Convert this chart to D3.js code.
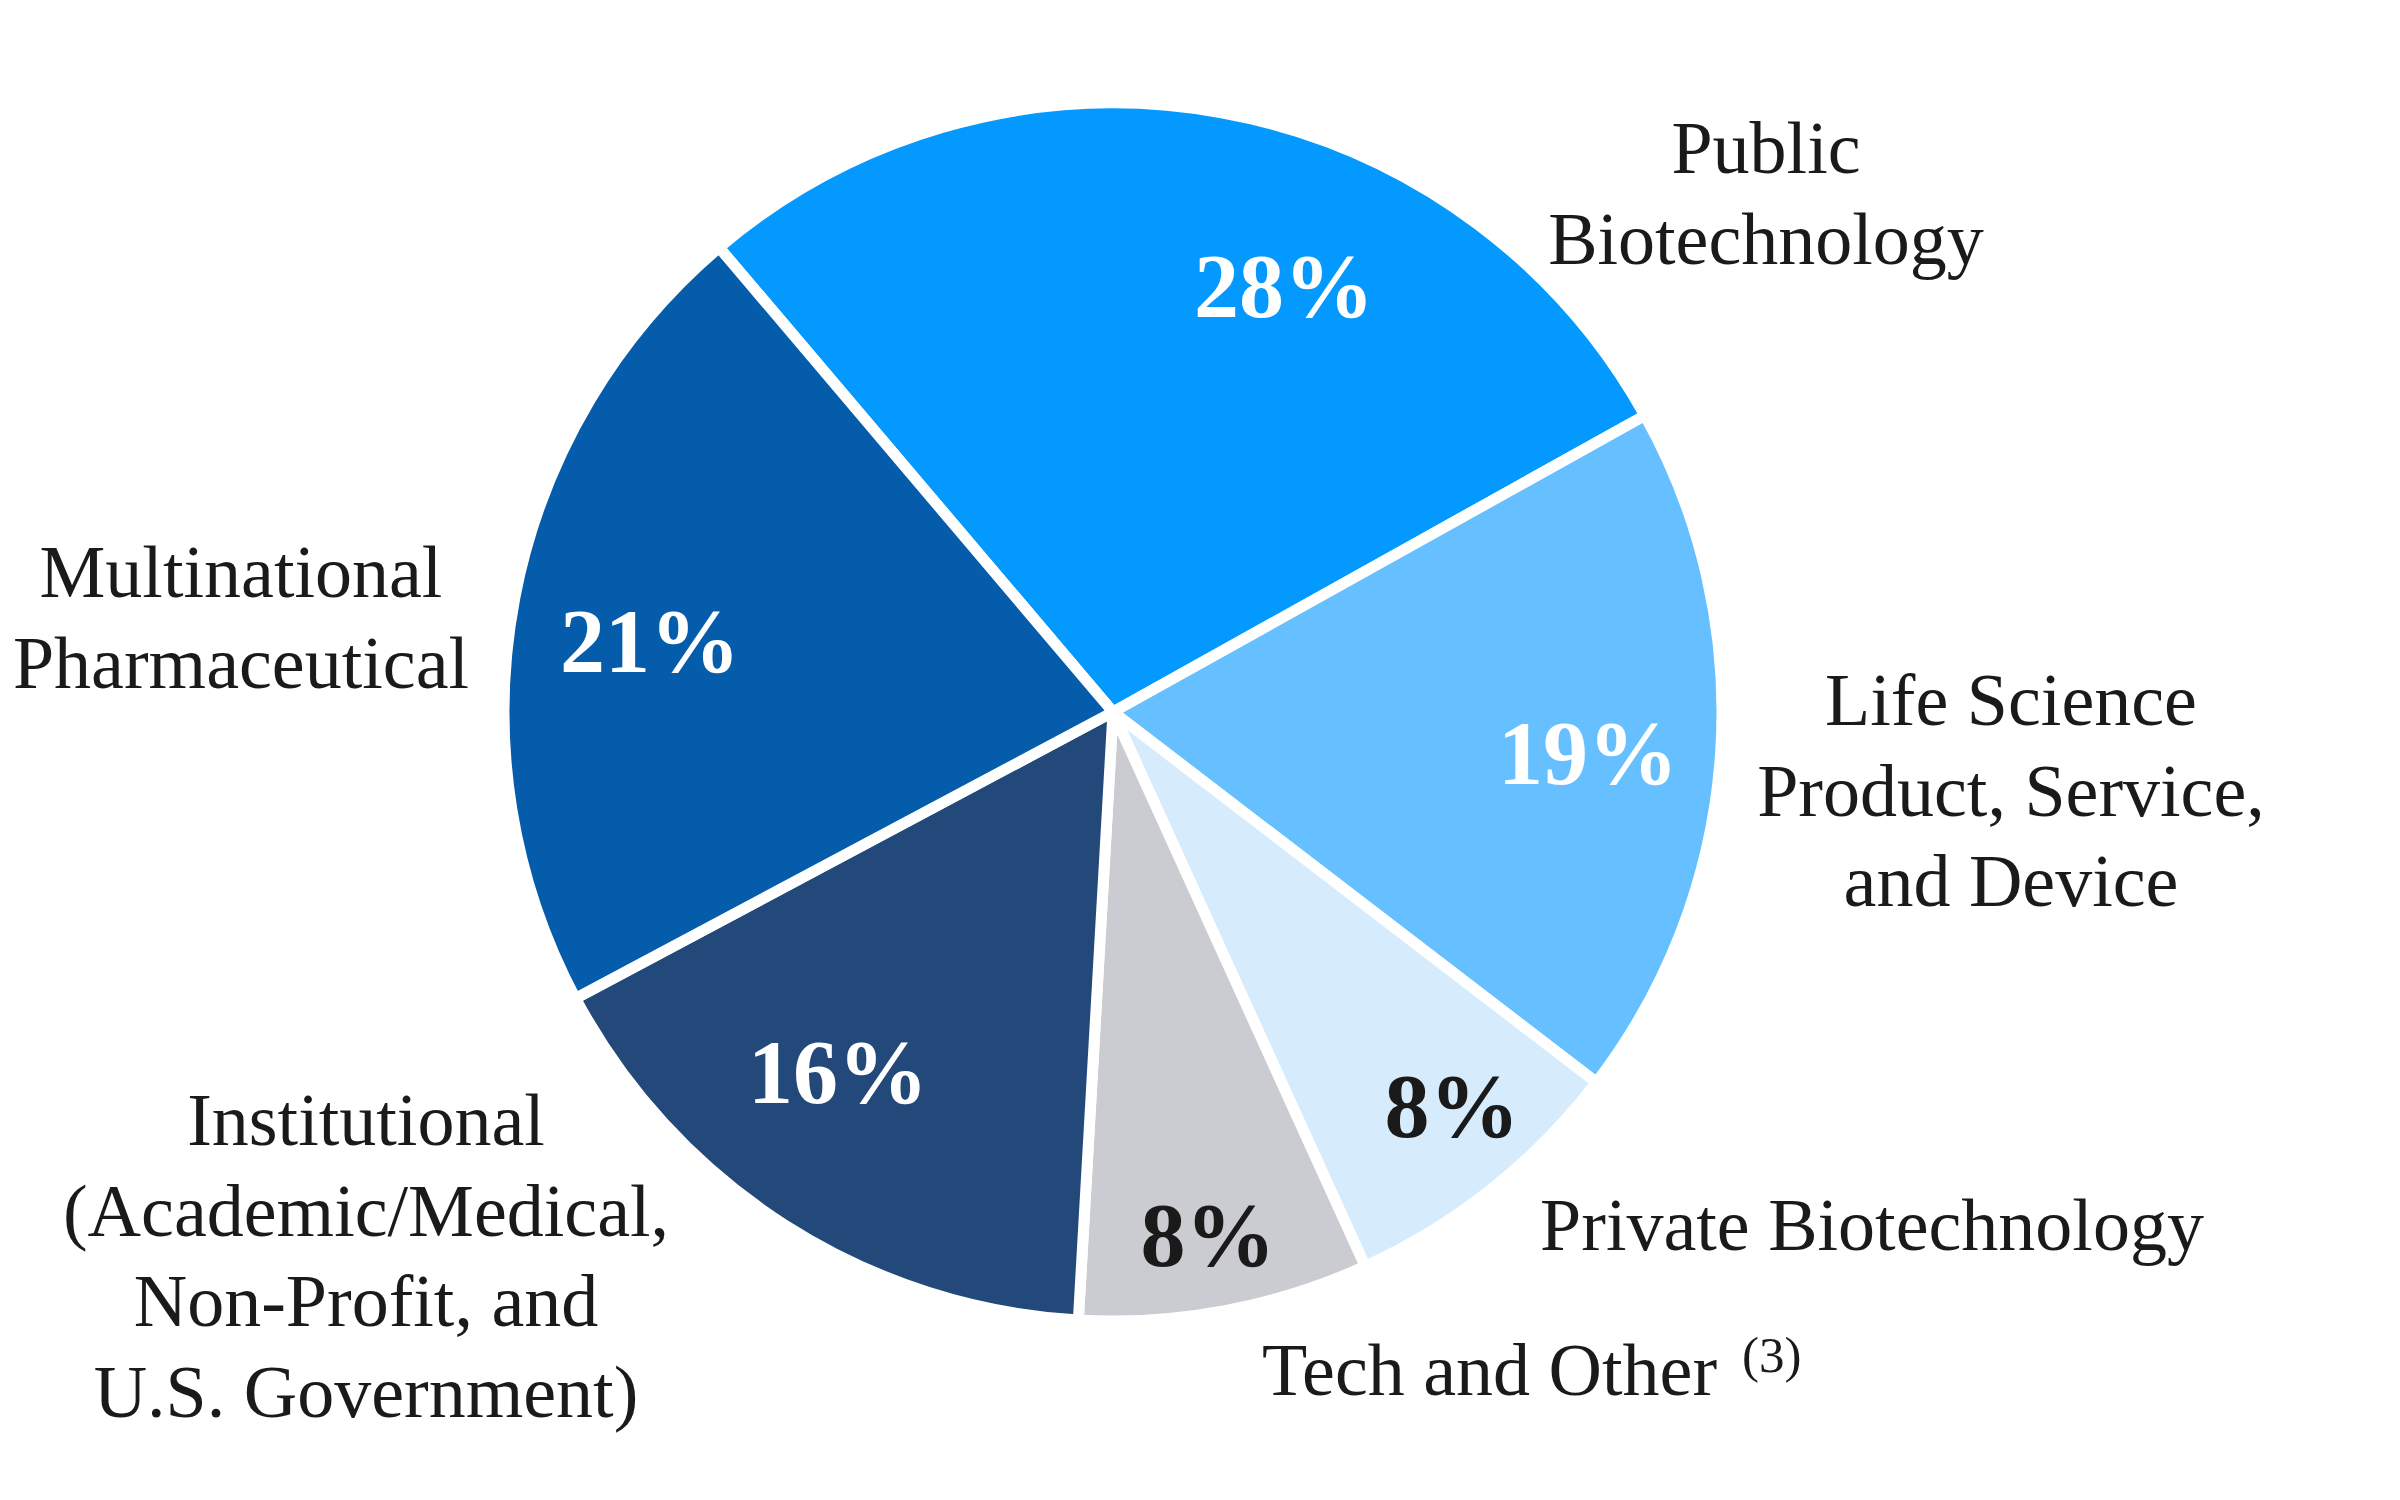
<!DOCTYPE html>
<html>
<head>
<meta charset="utf-8">
<script src="https://cdn.jsdelivr.net/npm/d3@7"></script>
<style>
  html, body { margin: 0; padding: 0; background: #fff; }
  svg text { font-family: "Liberation Serif", "Times New Roman", serif; }
</style>
</head>
<body>
<div id="chart"></div>
<script>
// segments, clockwise from the top-left edge of the pie
var categories = ["Public Biotechnology", "Life Science Product, Service, and Device",
                  "Private Biotechnology", "Tech and Other", "Institutional", "Multinational Pharmaceutical"]
// slice sizes as drawn in the picture (labels are the rounded figures)
var shares = [28.1, 18.5, 7.8, 7.7, 16.3, 21.6]
var pctLabels = ["28%", "19%", "8%", "8%", "16%", "21%"]
var nameLines = [
    ["Public", "Biotechnology"],
    ["Life Science", "Product, Service,", "and Device"],
    ["Private Biotechnology"],
    ["Tech and Other"],
    ["Institutional", "(Academic/Medical,", "Non-Profit, and", "U.S. Government)"],
    ["Multinational", "Pharmaceutical"]
]
var footnote = "(3)"

var colors = ["#0399fe", "#66c0ff", "#d6ecfd", "#cbccd1", "#22497a", "#045cab"]
var pctColors = ["#fff", "#fff", "#1a1a1a", "#1a1a1a", "#fff", "#fff"]

// text placement (hand laid out, like the original)
var pctPos = [[1284, 317], [1588, 784], [1452, 1137], [1208, 1266], [838, 1103], [650, 672]]
var namePos = [
    {x: 1766, y: 173, anchor: "middle"},
    {x: 2011, y: 725, anchor: "middle"},
    {x: 1872, y: 1250, anchor: "middle"},
    {x: 1262, y: 1395, anchor: "start"},
    {x: 366, y: 1145, anchor: "middle"},
    {x: 241, y: 597, anchor: "middle"}
]

var svgWidth = 2400
var svgHeight = 1500
var cx = 1113, cy = 712
var radius = 609
var lineGap = 90.5

var svg = d3.select("#chart")
    .append("svg")
    .attr("width", svgWidth)
    .attr("height", svgHeight)

var startA = -40.3 * Math.PI / 180
var pie = d3.pie()
    .sort(null)
    .value(d => d)
    .startAngle(startA)
    .endAngle(startA + 2 * Math.PI)

var arc = d3.arc()
    .innerRadius(0)
    .outerRadius(radius)

var pieGroup = svg.append("g")
    .attr("transform", `translate(${cx},${cy})`)

pieGroup.selectAll(".slice")
    .data(pie(shares))
    .enter()
    .append("path")
    .classed("slice", true)
    .attr("d", arc)
    .attr("fill", (d, i) => colors[i])
    .attr("stroke", "#fff")
    .attr("stroke-width", 11)
    .attr("stroke-linejoin", "round")

// percentages inside slices
svg.selectAll(".pct")
    .data(pctLabels)
    .enter()
    .append("text")
    .classed("pct", true)
    .attr("x", (d, i) => pctPos[i][0])
    .attr("y", (d, i) => pctPos[i][1])
    .attr("text-anchor", "middle")
    .attr("font-size", "90px")
    .attr("font-weight", "bold")
    .attr("fill", (d, i) => pctColors[i])
    .text(d => d)

// category names outside
nameLines.forEach(function(lines, i) {
    var p = namePos[i]
    var t = svg.append("text")
        .attr("x", p.x)
        .attr("y", p.y)
        .attr("text-anchor", p.anchor)
        .attr("font-size", "74px")
        .attr("fill", "#1a1a1a")
    t.selectAll("tspan")
        .data(lines)
        .enter()
        .append("tspan")
        .attr("x", p.x)
        .attr("dy", (d, j) => j == 0 ? 0 : lineGap)
        .text(d => d)
})

// footnote marker after "Tech and Other"
svg.append("text")
    .attr("x", 1742)
    .attr("y", 1372)
    .attr("font-size", "51px")
    .attr("fill", "#1a1a1a")
    .text(footnote)
</script>
</body>
</html>
